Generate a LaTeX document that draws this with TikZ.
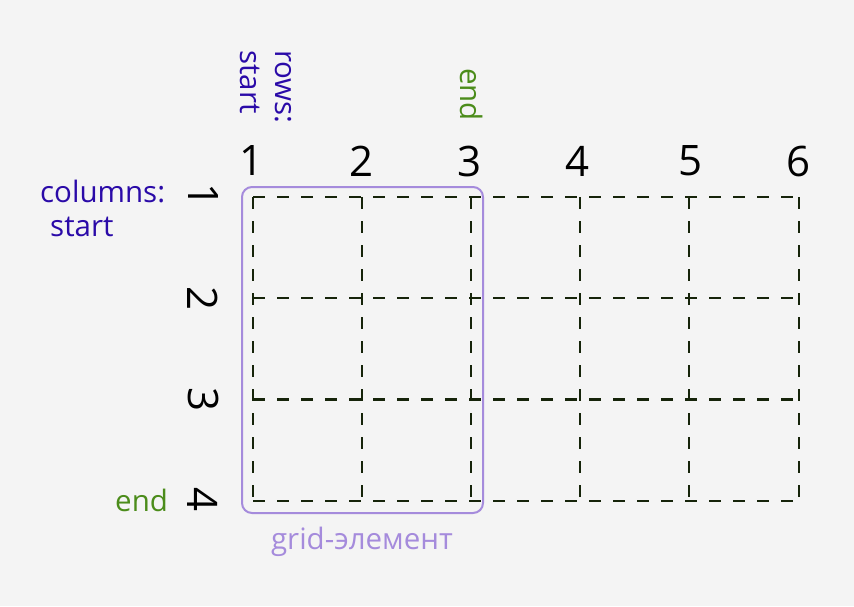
\documentclass[tikz,border=0pt]{standalone}
\usepackage{fontspec}
\setmainfont{Open Sans}
\definecolor{bgc}{HTML}{F4F4F4}
\definecolor{gridc}{HTML}{16240A}
\definecolor{bluec}{HTML}{2A0AA8}
\definecolor{greenc}{HTML}{4B8C1A}
\definecolor{purplec}{HTML}{A58BDC}
\tikzset{
  gridline/.style={draw=gridc, line width=2.6pt, dash pattern=on 12pt off 12pt},
  digit/.style={inner sep=0pt, font=\fontsize{42}{42}\selectfont, text=black},
  rowdigit/.style={digit, rotate=-90},
  lbl/.style={inner sep=0pt, font=\fontsize{29.5}{32}\selectfont},
  vlbl/.style={lbl, rotate=-90, anchor=base west},
  areabox/.style={draw=purplec, line width=2pt, rounded corners=10pt}
}
\begin{document}
\begin{tikzpicture}[x=1pt,y=-1pt]
\fill[bgc] (0,0) rectangle (854,606);
\useasboundingbox (0,0) rectangle (854,606);
% grid
\foreach \x in {253,362,471,580,689,799}
  \draw[gridline] (\x,197) -- (\x,501);
\foreach \y in {197,298,399.5,501}
  \draw[gridline] (253,\y) -- (799,\y);
% grid element
\draw[areabox] (242,187) rectangle (483,513);
\node[lbl, text=purplec] (ge) at (362,542) {grid-элемент};
% column numbers
\foreach \x/\n [count=\i] in {252/1,362/2,470/3,578/4,690/5,798/6}
  \node[digit] (c\i) at (\x,161) {\n};
% row numbers
\foreach \y/\n [count=\i] in {196/1,298/2,399/3,499/4}
  \node[rowdigit] (r\i) at (203,\y) {\n};
% labels
\node[vlbl, text=bluec] (rows) at (275,50) {rows:};
\node[vlbl, text=bluec] (rstart) at (240,50) {start};
\node[vlbl, text=greenc] (rend) at (460,68) {end};
\node[lbl, text=bluec, anchor=base west] (cols) at (40,202) {columns:};
\node[lbl, text=bluec, anchor=base west] (cstart) at (50,236) {start};
\node[lbl, text=greenc, anchor=base west] (cend) at (115,511) {end};
\end{tikzpicture}
\end{document}
